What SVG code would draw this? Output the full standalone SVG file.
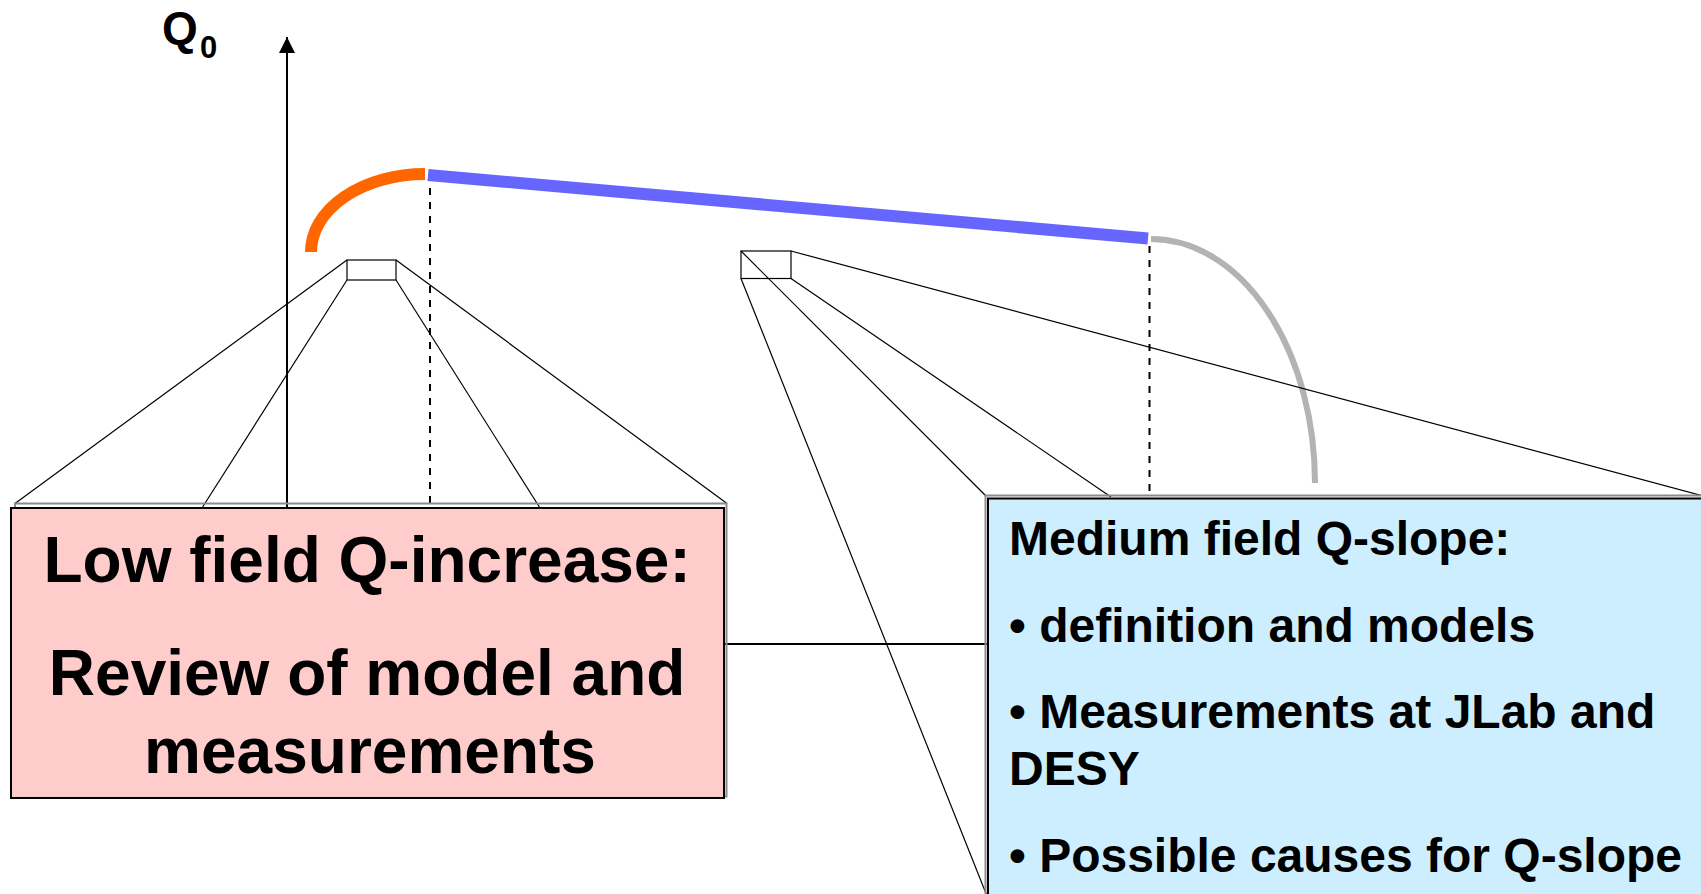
<svg xmlns="http://www.w3.org/2000/svg" width="1701" height="894" viewBox="0 0 1701 894">
<defs>
<style>
.t{font-family:"Liberation Sans",Arial,sans-serif;font-weight:bold;fill:#000}
.thin{stroke:#000;stroke-width:1.2;fill:none}
.dash{stroke:#000;stroke-width:2;stroke-dasharray:7 7;fill:none}
.frame{fill:none;stroke:#8c8c8c;stroke-width:2}
</style>
<marker id="ah" markerWidth="16" markerHeight="16" viewBox="0 0 16 16" refX="16" refY="8" orient="auto" markerUnits="userSpaceOnUse">
<path d="M0,0 L16,8 L0,16 z" fill="#000"/>
</marker>
</defs>
<rect width="1701" height="894" fill="#fff"/>

<g id="axis">
<line x1="287" y1="508" x2="287" y2="37" stroke="#000" stroke-width="2" marker-end="url(#ah)"/>
<text class="t" x="162" y="44" font-size="46">Q</text>
<text class="t" x="200" y="58" font-size="31">0</text>
</g>

<g id="curve">
<path d="M311,252 A114,78 0 0,1 425,174" fill="none" stroke="#ff6600" stroke-width="12"/>
<line x1="428" y1="175" x2="1148" y2="238.5" stroke="#6666ff" stroke-width="12"/>
<path d="M1151,239 A164,244 0 0,1 1315,483" fill="none" stroke="#b3b3b3" stroke-width="6"/>
</g>

<g id="connectors">
<line class="dash" x1="430" y1="188" x2="430" y2="507"/>
<line class="dash" x1="1149.5" y1="246" x2="1149.5" y2="497"/>
<rect x="347" y="260" width="49" height="20" class="thin"/>
<line class="thin" x1="347" y1="260" x2="15" y2="503.5"/>
<line class="thin" x1="347" y1="280" x2="202" y2="508"/>
<line class="thin" x1="396" y1="280" x2="540" y2="508"/>
<line class="thin" x1="396" y1="260" x2="727" y2="503.5"/>
<rect x="741" y="251" width="50" height="27.5" class="thin"/>
<line class="thin" x1="741" y1="251" x2="986" y2="496"/>
<line class="thin" x1="741" y1="278.5" x2="987" y2="896"/>
<line class="thin" x1="791" y1="278.5" x2="1111" y2="497"/>
<line class="thin" x1="791" y1="251" x2="1703" y2="496"/>
<line x1="725" y1="644" x2="988" y2="644" stroke="#000" stroke-width="2"/>
</g>

<g id="low-field">
<rect class="frame" x="15" y="503.5" width="711.5" height="293"/>
<rect x="11" y="508" width="713" height="290" fill="#ffcccc" stroke="#000" stroke-width="2"/>
<text class="t" font-size="64" text-anchor="middle">
<tspan x="376" y="582">Low field Q-increase:</tspan>
<tspan x="376" y="695">Review of model and</tspan>
<tspan x="370" y="773">measurements</tspan>
</text>
</g>

<g id="medium-field">
<rect class="frame" x="985.5" y="495.5" width="740" height="420"/>
<rect x="988" y="498.5" width="740" height="420" fill="#cceeff" stroke="#000" stroke-width="2"/>
<text class="t" font-size="48">
<tspan x="1009" y="555">Medium field Q-slope:</tspan>
<tspan x="1009" y="642">• definition and models</tspan>
<tspan x="1009" y="728">• Measurements at JLab and</tspan>
<tspan x="1009" y="785">DESY</tspan>
<tspan x="1009" y="872">• Possible causes for Q-slope</tspan>
</text>
</g>
</svg>
